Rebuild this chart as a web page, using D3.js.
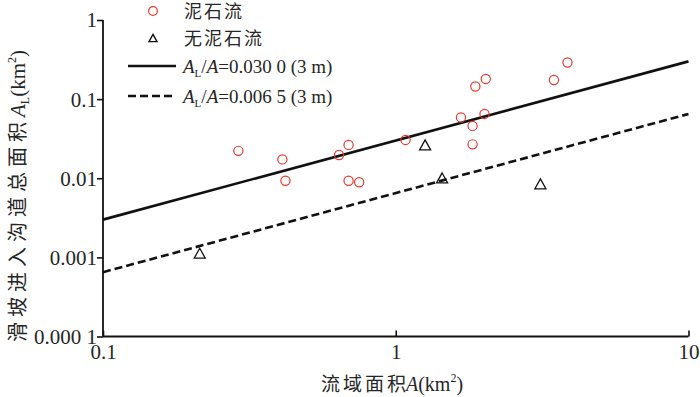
<!DOCTYPE html>
<html lang="zh">
<head>
<meta charset="UTF-8">
<title></title>
<style>
    body { margin: 0; background: #fff; }
    svg text { font-family: "Liberation Serif", "Noto Sans CJK SC", serif; fill: #262626; }
    .cjk { font-family: "Noto Sans CJK SC", sans-serif; }
</style>
</head>
<body>
<svg id="chart"></svg>
<script src="https://cdn.jsdelivr.net/npm/d3@7"></script>
<script>

// debris-flow catchments: area A (km2), landslide area into channel A_L (km2)
var flowA  = [0.29, 0.41, 0.42, 0.64, 0.69, 0.69, 0.75, 1.08, 1.67, 1.83, 1.83, 1.87, 2.03, 2.01, 3.47, 3.86];
var flowAL = [0.0222, 0.0173, 0.0093, 0.0197, 0.0264, 0.0093, 0.0089, 0.0305, 0.0587, 0.0459, 0.0268, 0.1446, 0.180, 0.065, 0.1747, 0.2905];

// no debris flow
var noneA  = [0.214, 1.26, 1.44, 3.12];
var noneAL = [0.00113, 0.0264, 0.0101, 0.0085];

// ratio lines A_L = k * A
var ratios = [0.0300, 0.0065];
var ratioLabels = ["0.030 0", "0.006 5"];

var xTicks = [0.1, 1, 10];
var xTickLabels = ["0.1", "1", "10"];
var yTicks = [1, 0.1, 0.01, 0.001, 0.0001];
var yTickLabels = ["1", "0.1", "0.01", "0.001", "0.000 1"];

var W = 700, H = 397;
var mLeft = 103, mRight = 688.5, mTop = 20, mBottom = 336.5;

var svg = d3.select("#chart").attr("width", W).attr("height", H);

var x = d3.scaleLog().domain([0.1, 10]).range([mLeft, mRight]);
var y = d3.scaleLog().domain([0.0001, 1]).range([mBottom, mTop]);

// axes
var yAxis = d3.axisLeft(y).tickValues(yTicks).tickSize(6)
    .tickFormat(function (d, i) { return yTickLabels[i]; });
var xAxis = d3.axisBottom(x).tickValues(xTicks).tickSize(-6)
    .tickFormat(function (d, i) { return xTickLabels[i]; });

var gy = svg.append("g").attr("transform", "translate(" + mLeft + ",0)").call(yAxis);
var gx = svg.append("g").attr("transform", "translate(0," + mBottom + ")").call(xAxis);

[gx, gy].forEach(function (g) {
    g.select(".domain").attr("stroke", "#111").attr("stroke-width", 1.8);
    g.selectAll(".tick line").attr("stroke", "#111").attr("stroke-width", 1.6);
    g.selectAll(".tick text").attr("font-family", "Liberation Serif").attr("font-size", 21).attr("fill", "#262626");
});
gy.select(".domain").attr("d", "M0," + mTop + "V" + mBottom);
gx.select(".domain").attr("d", "M" + mLeft + ",0H" + mRight);
gy.selectAll(".tick text").attr("x", -6).attr("dy", "0.33em");
gx.selectAll(".tick text").attr("y", 6).attr("dy", "0.8em");

// ratio lines
var line = d3.line().x(function (d) { return x(d[0]); }).y(function (d) { return y(d[1]); });
ratios.forEach(function (k, i) {
    svg.append("path")
        .datum([[0.1, 0.1 * k], [10, 10 * k]])
        .attr("d", line)
        .attr("fill", "none")
        .attr("stroke", "#111")
        .attr("stroke-width", 2.6)
        .attr("stroke-dasharray", i === 1 ? "8,4" : null);
});

// points
svg.append("g").selectAll("circle")
    .data(d3.zip(flowA, flowAL))
    .join("circle")
    .attr("cx", function (d) { return x(d[0]); })
    .attr("cy", function (d) { return y(d[1]); })
    .attr("r", 4.6)
    .attr("fill", "none")
    .attr("stroke", "#e8382b")
    .attr("stroke-width", 1.2);

function tri(cx, cy, s) {
    var h = s * 0.9;
    return "M" + cx + "," + (cy - h / 2) + "L" + (cx + s / 2) + "," + (cy + h / 2) + "L" + (cx - s / 2) + "," + (cy + h / 2) + "Z";
}
svg.append("g").selectAll("path")
    .data(d3.zip(noneA, noneAL))
    .join("path")
    .attr("d", function (d) { return tri(x(d[0]), y(d[1]), 11); })
    .attr("fill", "none")
    .attr("stroke", "#111")
    .attr("stroke-width", 1.3);

// legend
var lg = svg.append("g");
lg.append("circle").attr("cx", 153).attr("cy", 11).attr("r", 4.4)
    .attr("fill", "none").attr("stroke", "#e8382b").attr("stroke-width", 1.2);
lg.append("text").attr("class", "cjk").attr("x", 184).attr("y", 18).attr("font-size", 18)
    .attr("letter-spacing", 2).text("泥石流");
lg.append("path").attr("d", tri(153, 38, 8)).attr("fill", "none").attr("stroke", "#111").attr("stroke-width", 1.4);
lg.append("text").attr("class", "cjk").attr("x", 184).attr("y", 45).attr("font-size", 18)
    .attr("letter-spacing", 2).text("无泥石流");

ratios.forEach(function (k, i) {
    var ly = 66 + i * 30;
    lg.append("line").attr("x1", 128).attr("x2", 176).attr("y1", ly).attr("y2", ly)
        .attr("stroke", "#111").attr("stroke-width", 2.6)
        .attr("stroke-dasharray", i === 1 ? "8,4" : null);
    var t = lg.append("text").attr("x", 183).attr("y", ly + 7).attr("font-size", 19);
    t.append("tspan").attr("font-style", "italic").text("A");
    t.append("tspan").attr("font-size", 11).attr("dy", 4).text("L");
    t.append("tspan").attr("dy", -4).text("/");
    t.append("tspan").attr("font-style", "italic").text("A");
    t.append("tspan").text("=" + ratioLabels[i] + " (3 m)");
});

// axis titles
var xt = svg.append("text").attr("x", 392).attr("y", 391).attr("text-anchor", "middle").attr("font-size", 20);
xt.append("tspan").attr("class", "cjk").attr("font-size", 19).attr("letter-spacing", 3).text("流域面");
xt.append("tspan").attr("class", "cjk").attr("font-size", 19).text("积");
xt.append("tspan").attr("font-style", "italic").text("A");
xt.append("tspan").text("(km");
xt.append("tspan").attr("font-size", 12).attr("dy", -9).text("2");
xt.append("tspan").attr("dy", 9).text(")");

var yt = svg.append("text").attr("transform", "translate(25,196) rotate(-90)")
    .attr("text-anchor", "middle").attr("font-size", 21);
yt.append("tspan").attr("class", "cjk").attr("font-size", 20).attr("letter-spacing", 5).text("滑坡进入沟道总面积");
yt.append("tspan").attr("font-style", "italic").text("A");
yt.append("tspan").attr("font-size", 12).attr("dy", 4).text("L");
yt.append("tspan").attr("dy", -4).text("(km");
yt.append("tspan").attr("font-size", 12).attr("dy", -9).text("2");
yt.append("tspan").attr("dy", 9).text(")");

</script>
</body>
</html>
